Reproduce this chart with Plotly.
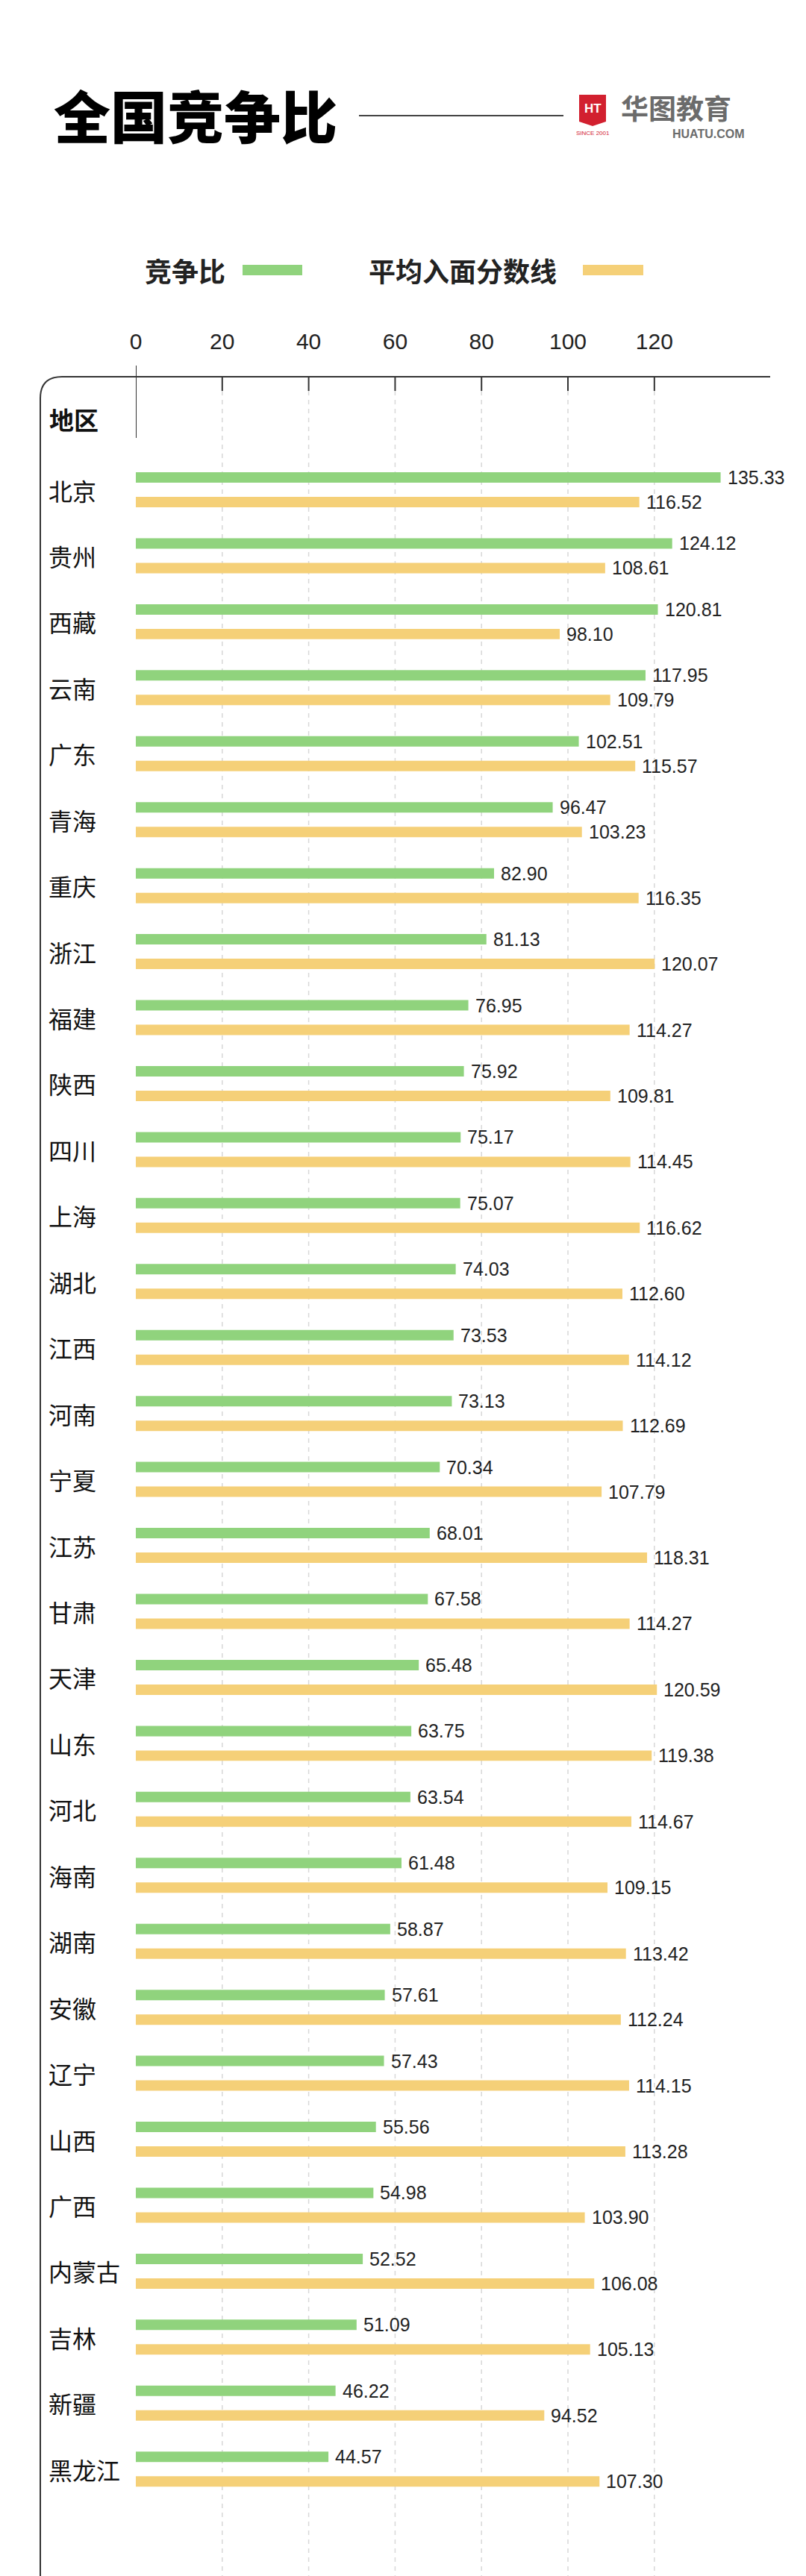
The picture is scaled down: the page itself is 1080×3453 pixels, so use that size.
import plotly.graph_objects as go

# ---------------- data ----------------
regions = ["北京", "贵州", "西藏", "云南", "广东", "青海", "重庆", "浙江", "福建", "陕西",
           "四川", "上海", "湖北", "江西", "河南", "宁夏", "江苏", "甘肃", "天津", "山东",
           "河北", "海南", "湖南", "安徽", "辽宁", "山西", "广西", "内蒙古", "吉林", "新疆", "黑龙江"]
ratio = [135.33, 124.12, 120.81, 117.95, 102.51, 96.47, 82.90, 81.13, 76.95, 75.92,
         75.17, 75.07, 74.03, 73.53, 73.13, 70.34, 68.01, 67.58, 65.48, 63.75,
         63.54, 61.48, 58.87, 57.61, 57.43, 55.56, 54.98, 52.52, 51.09, 46.22, 44.57]
score = [116.52, 108.61, 98.10, 109.79, 115.57, 103.23, 116.35, 120.07, 114.27, 109.81,
         114.45, 116.62, 112.60, 114.12, 112.69, 107.79, 118.31, 114.27, 120.59, 119.38,
         114.67, 109.15, 113.42, 112.24, 114.15, 113.28, 103.90, 106.08, 105.13, 94.52, 107.30]
tick_vals = [0, 20, 40, 60, 80, 100, 120]
series_names = ["竞争比", "平均入面分数线"]
title_text = "全国竞争比"

# ---------------- style ----------------
W, H = 1080, 3453
L, R, T, B = 182, 48, 505, 0
GREEN = "#90d37d"
YELLOW = "#f5d078"
LINE = "#333333"
CJK = "Noto Sans CJK SC, Noto Sans, sans-serif"
NUM = "Liberation Sans, Arial, sans-serif"


def px(x):
    return (x - L) / (W - L - R)


def py(y):
    return (H - B - y) / (H - T - B)


fig = go.Figure()
fig.add_trace(go.Bar(y=regions, x=ratio, orientation="h", name=series_names[0],
                     marker=dict(color=GREEN, line=dict(width=0)), hoverinfo="skip"))
fig.add_trace(go.Bar(y=regions, x=score, orientation="h", name=series_names[1],
                     marker=dict(color=YELLOW, line=dict(width=0)), hoverinfo="skip"))

annotations = []
shapes = []

# value labels
for reg, v in zip(regions, ratio):
    annotations.append(dict(x=v, y=reg, xref="x", yref="y", text=f"{v:.2f}", showarrow=False,
                            xanchor="left", yanchor="middle", xshift=7, yshift=16.5,
                            font=dict(family=NUM, size=25, color="#222")))
for reg, v in zip(regions, score):
    annotations.append(dict(x=v, y=reg, xref="x", yref="y", text=f"{v:.2f}", showarrow=False,
                            xanchor="left", yanchor="middle", xshift=7, yshift=-16.5,
                            font=dict(family=NUM, size=25, color="#222")))

# region labels (left aligned)
for reg in regions:
    annotations.append(dict(x=px(63), y=reg, xref="paper", yref="y", text=reg, showarrow=False,
                            xanchor="left", yanchor="middle",
                            font=dict(family=CJK, size=32, color="#111")))

annotations.append(dict(x=px(64), y=py(562), xref="paper", yref="paper", text="<b>地区</b>",
                        showarrow=False, xanchor="left", yanchor="middle",
                        font=dict(family=CJK, size=33, color="#111")))

# title
annotations.append(dict(x=px(70), y=py(153), xref="paper", yref="paper", text=title_text,
                        showarrow=False, xanchor="left", yanchor="middle",
                        font=dict(family=CJK, size=76, color="#000", weight=900)))
shapes.append(dict(type="line", xref="paper", yref="paper", x0=px(481), x1=px(755),
                   y0=py(155), y1=py(155), line=dict(color="#444", width=2)))

# logo
shield = (f"M {px(776)},{py(127)} L {px(812)},{py(127)} L {px(812)},{py(163)} "
          f"L {px(794)},{py(169)} L {px(776)},{py(163)} Z")
shapes.append(dict(type="path", xref="paper", yref="paper", path=shield,
                   fillcolor="#d2202f", line=dict(width=0)))
annotations.append(dict(x=px(794), y=py(146), xref="paper", yref="paper", text="<b>HT</b>",
                        showarrow=False, xanchor="center", yanchor="middle",
                        font=dict(family=NUM, size=17, color="white")))
annotations.append(dict(x=px(794), y=py(178), xref="paper", yref="paper", text="SINCE 2001",
                        showarrow=False, xanchor="center", yanchor="middle",
                        font=dict(family=NUM, size=8, color="#d2202f")))
annotations.append(dict(x=px(830), y=py(144), xref="paper", yref="paper", text="<b>华图教育</b>",
                        showarrow=False, xanchor="left", yanchor="middle",
                        font=dict(family=CJK, size=37, color="#6b6b6b")))
annotations.append(dict(x=px(1000), y=py(180), xref="paper", yref="paper", text="<b>HUATU.COM</b>",
                        showarrow=False, xanchor="right", yanchor="middle",
                        font=dict(family=NUM, size=16, color="#6b6b6b")))

# legend (text then swatch)
annotations.append(dict(x=px(192), y=py(362), xref="paper", yref="paper", text=f"<b>{series_names[0]}</b>",
                        showarrow=False, xanchor="left", yanchor="middle",
                        font=dict(family=CJK, size=36, color="#222")))
shapes.append(dict(type="rect", xref="paper", yref="paper", x0=px(325), x1=px(405),
                   y0=py(355), y1=py(369), fillcolor=GREEN, line=dict(width=0)))
annotations.append(dict(x=px(492), y=py(362), xref="paper", yref="paper", text=f"<b>{series_names[1]}</b>",
                        showarrow=False, xanchor="left", yanchor="middle",
                        font=dict(family=CJK, size=36, color="#222")))
shapes.append(dict(type="rect", xref="paper", yref="paper", x0=px(781), x1=px(862),
                   y0=py(355), y1=py(369), fillcolor=YELLOW, line=dict(width=0)))

# frame: top line with rounded corner + left line
frame = (f"M {px(1032)},{py(505)} L {px(83)},{py(505)} "
         f"Q {px(54)},{py(505)} {px(54)},{py(534)} L {px(54)},{py(3453)}")
shapes.append(dict(type="path", xref="paper", yref="paper", path=frame,
                   line=dict(color=LINE, width=2)))

# zero axis line
shapes.append(dict(type="line", xref="x", yref="paper", x0=0, x1=0, y0=py(490), y1=py(587),
                   line=dict(color=LINE, width=2)))
# ticks + dashed grid
for t in tick_vals[1:]:
    shapes.append(dict(type="line", xref="x", yref="paper", x0=t, x1=t, y0=py(505), y1=py(524),
                       line=dict(color=LINE, width=2)))
    shapes.append(dict(type="line", xref="x", yref="paper", x0=t, x1=t, y0=py(524), y1=0,
                       line=dict(color="#d8d8d8", width=1.5, dash="6px,6px"), layer="below"))

fig.update_layout(
    width=W, height=H,
    margin=dict(l=L, r=R, t=T, b=B, pad=0),
    paper_bgcolor="white", plot_bgcolor="white",
    barmode="group", bargap=0.254, bargroupgap=0.576,
    showlegend=False,
    annotations=annotations, shapes=shapes,
    xaxis=dict(side="top", range=[0, 146.8], tickvals=tick_vals,
               ticktext=[str(v) for v in tick_vals], showgrid=False, zeroline=False,
               showline=False, ticks="", ticklabelstandoff=30,
               tickfont=dict(family=NUM, size=30, color="#222"), fixedrange=True),
    yaxis=dict(type="category", categoryorder="array", categoryarray=regions,
               range=[31.62, -1.713], showticklabels=False, showgrid=False,
               zeroline=False, showline=False, ticks="", fixedrange=True),
)

fig.write_html("out.html")
